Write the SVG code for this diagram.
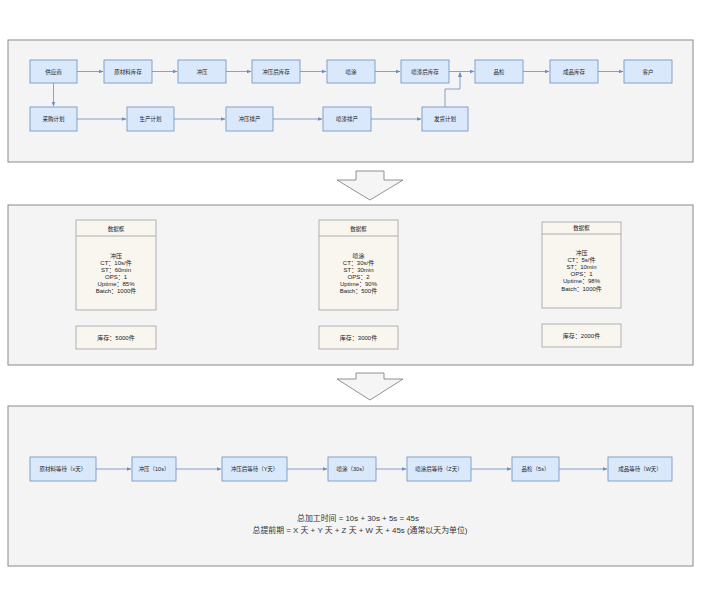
<svg xmlns="http://www.w3.org/2000/svg" width="703" height="607" viewBox="0 0 703 607">
<style>
text{font-family:"Liberation Sans","Noto Sans CJK SC",sans-serif;fill:#222;text-anchor:middle;dominant-baseline:central}
.panel{fill:#f4f4f4;stroke:#8a8a8a;stroke-width:1}
.n rect{fill:#dae8fc;stroke:#6c8ebf;stroke-width:0.8}
.n text{font-size:5.5px}
.d rect{fill:#f8f6ee;stroke:#a0a0a0;stroke-width:0.8}
.d line{stroke:#a0a0a0;stroke-width:0.8}
.d text{font-size:6px}
.d .h{font-size:5.5px}
.c path{fill:none;stroke:#6c8ebf;stroke-width:0.8;marker-end:url(#ah)}
.big{fill:#f5f5f5;stroke:#777;stroke-width:0.8}
.f{font-size:7.9px;fill:#333}
</style>
<defs>
<marker id="ah" viewBox="0 0 10 10" refX="9" refY="5" markerWidth="5" markerHeight="5" orient="auto" markerUnits="userSpaceOnUse">
<path d="M0,1 L10,5 L0,9 Z" fill="#6c8ebf"/>
</marker>
</defs>

<rect class="panel" x="8" y="40" width="685" height="122"/>
<rect class="panel" x="8" y="205" width="685" height="160"/>
<rect class="panel" x="8" y="406" width="685" height="160"/>

<path class="big" d="M356,171 H384 V180 H403 L370,200 L337,180 H356 Z"/>
<path class="big" d="M356,373 H384 V379 H403 L370,400 L337,379 H356 Z"/>

<g class="c">
<path d="M77,71.5 H103"/>
<path d="M152,71.5 H177"/>
<path d="M226,71.5 H251"/>
<path d="M300,71.5 H326"/>
<path d="M375,71.5 H400"/>
<path d="M449,71.5 H474"/>
<path d="M523,71.5 H549"/>
<path d="M598,71.5 H623"/>
<path d="M53.5,83 V106"/>
<path d="M77,119 H126"/>
<path d="M174,119 H225"/>
<path d="M273,119 H322"/>
<path d="M371,119 H421"/>
<path d="M445,107 V89 H460 V72.5"/>
<path d="M96,469 H131"/>
<path d="M176,469 H221"/>
<path d="M287,469 H327"/>
<path d="M376,469 H406"/>
<path d="M471,469 H511"/>
<path d="M559,469 H607"/>
</g>

<g id="gys" class="n"><rect x="30" y="60" width="47" height="23"/><text x="53.5" y="71.5">供应商</text></g>
<g id="yclkc" class="n"><rect x="104" y="60" width="48" height="23"/><text x="128" y="71.5">原材料库存</text></g>
<g id="cy" class="n"><rect x="178" y="60" width="48" height="23"/><text x="202" y="71.5">冲压</text></g>
<g id="cyhkc" class="n"><rect x="252" y="60" width="48" height="23"/><text x="276" y="71.5">冲压后库存</text></g>
<g id="pt" class="n"><rect x="327" y="60" width="48" height="23"/><text x="351" y="71.5">喷涂</text></g>
<g id="pqhkc" class="n"><rect x="401" y="60" width="48" height="23"/><text x="425" y="71.5">喷漆后库存</text></g>
<g id="pj" class="n"><rect x="475" y="60" width="48" height="23"/><text x="499" y="71.5">品检</text></g>
<g id="cpkc" class="n"><rect x="550" y="60" width="48" height="23"/><text x="574" y="71.5">成品库存</text></g>
<g id="kh" class="n"><rect x="624" y="60" width="48" height="23"/><text x="648" y="71.5">客户</text></g>

<g id="cgjh" class="n"><rect x="30" y="107" width="47" height="24"/><text x="53.5" y="119">采购计划</text></g>
<g id="scjh" class="n"><rect x="127" y="107" width="47" height="24"/><text x="150.5" y="119">生产计划</text></g>
<g id="cypc" class="n"><rect x="226" y="107" width="47" height="24"/><text x="249.5" y="119">冲压排产</text></g>
<g id="pqpc" class="n"><rect x="323" y="107" width="48" height="24"/><text x="347" y="119">喷漆排产</text></g>
<g id="fhjh" class="n"><rect x="422" y="107" width="46" height="24"/><text x="445" y="119">发货计划</text></g>

<g id="d1" class="d">
<rect x="76" y="220" width="80" height="90"/><line x1="76" y1="236" x2="156" y2="236"/>
<text class="h" x="116" y="228.5">数据框</text>
<text x="116" y="256">冲压</text>
<text x="116" y="263">CT：10s/件</text>
<text x="116" y="270">ST：60min</text>
<text x="116" y="277">OPS：1</text>
<text x="116" y="284">Uptime：85%</text>
<text x="116" y="291">Batch：1000件</text>
</g>
<g id="inv1" class="d"><rect x="76" y="326" width="80" height="23"/><text x="116" y="338">库存：5000件</text></g>

<g id="d2" class="d">
<rect x="319" y="220" width="79" height="90"/><line x1="319" y1="236" x2="398" y2="236"/>
<text class="h" x="358.5" y="228.5">数据框</text>
<text x="358.5" y="256">喷涂</text>
<text x="358.5" y="263">CT：30s/件</text>
<text x="358.5" y="270">ST：30min</text>
<text x="358.5" y="277">OPS：2</text>
<text x="358.5" y="284">Uptime：90%</text>
<text x="358.5" y="291">Batch：500件</text>
</g>
<g id="inv2" class="d"><rect x="319" y="326" width="79" height="23"/><text x="358.5" y="338">库存：3000件</text></g>

<g id="d3" class="d">
<rect x="542" y="222" width="79" height="86"/><line x1="542" y1="234" x2="621" y2="234"/>
<text class="h" x="581.5" y="227.5">数据框</text>
<text x="581.5" y="253">冲压</text>
<text x="581.5" y="260">CT：5s/件</text>
<text x="581.5" y="267">ST：10min</text>
<text x="581.5" y="274">OPS：1</text>
<text x="581.5" y="281">Uptime：98%</text>
<text x="581.5" y="289">Batch：1000件</text>
</g>
<g id="inv3" class="d"><rect x="542" y="324" width="79" height="23"/><text x="581.5" y="336">库存：2000件</text></g>

<g id="w1" class="n"><rect x="30" y="457" width="66" height="24"/><text x="63" y="469">原材料等待（x天）</text></g>
<g id="w2" class="n"><rect x="132" y="457" width="44" height="24"/><text x="154" y="469">冲压（10s）</text></g>
<g id="w3" class="n"><rect x="222" y="457" width="65" height="24"/><text x="254.5" y="469">冲压后等待（Y天）</text></g>
<g id="w4" class="n"><rect x="328" y="457" width="48" height="24"/><text x="352" y="469">喷涂（30s）</text></g>
<g id="w5" class="n"><rect x="407" y="457" width="64" height="24"/><text x="439" y="469">喷涂后等待（Z天）</text></g>
<g id="w6" class="n"><rect x="512" y="457" width="47" height="24"/><text x="535.5" y="469">品检（5s）</text></g>
<g id="w7" class="n"><rect x="608" y="457" width="64" height="24"/><text x="640" y="469">成品等待（W天）</text></g>

<text class="f" x="358" y="518">总加工时间 = 10s + 30s + 5s = 45s</text>
<text class="f" x="360" y="530">总提前期 = X 天 + Y 天 + Z 天 + W 天 + 45s (通常以天为单位)</text>
</svg>
